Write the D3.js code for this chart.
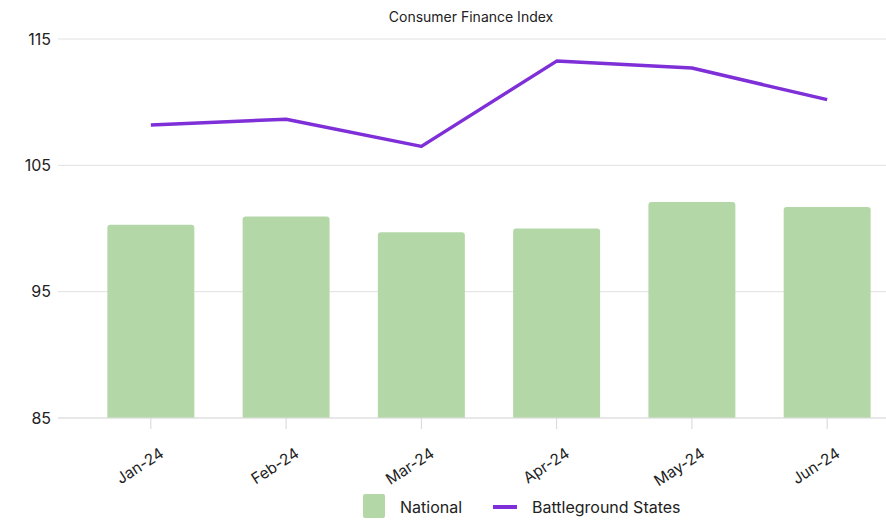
<!DOCTYPE html>
<html>
<head>
<meta charset="utf-8">
<script src="https://cdn.jsdelivr.net/npm/d3@7"></script>
<style>
  body { margin: 0; background: #fff; }
  svg { font-family: Inter, Roboto, sans-serif; display: block; }
</style>
</head>
<body>
<div id="chart"></div>
<script>
// Data
const months = ["Jan-24", "Feb-24", "Mar-24", "Apr-24", "May-24", "Jun-24"];
const national = [100.3, 100.95, 99.7, 100.0, 102.1, 101.7];
const battleground = [108.2, 108.65, 106.5, 113.25, 112.7, 110.2];
const yTicks = [85, 95, 105, 115];

const width = 886, height = 521;
const barColor = "#b4d7a8";
const lineColor = "#7e2fd8";

const svg = d3.select("#chart").append("svg")
  .attr("width", width)
  .attr("height", height);

const x = d3.scaleBand()
  .domain(months)
  .range([83, 895])
  .paddingInner(0.357)
  .paddingOuter(0.18);

const y = d3.scaleLinear()
  .domain([85, 115])
  .range([418, 39]);

// Title
svg.append("text")
  .attr("x", 471)
  .attr("y", 22)
  .attr("text-anchor", "middle")
  .attr("font-size", 14)
  .attr("fill", "#222")
  .text("Consumer Finance Index");

// Grid + y labels
const yAxis = svg.append("g").attr("class", "y-axis");
yAxis.selectAll("line")
  .data(yTicks)
  .join("line")
  .attr("x1", 58)
  .attr("x2", 886)
  .attr("y1", (d) => y(d))
  .attr("y2", (d) => y(d))
  .attr("stroke", "#e0e0e0")
  .attr("stroke-width", 1);

yAxis.selectAll("text")
  .data(yTicks)
  .join("text")
  .attr("x", 51)
  .attr("y", (d) => y(d))
  .attr("dy", "0.35em")
  .attr("text-anchor", "end")
  .attr("font-size", 16)
  .attr("fill", "#222")
  .text((d) => d);

// Bars
svg.append("g")
  .selectAll("path")
  .data(national)
  .join("path")
  .attr("fill", barColor)
  .attr("d", (d, i) => {
    const x0 = x(months[i]), w = x.bandwidth();
    const top = y(d), bottom = y(85), r = 3;
    return `M${x0},${bottom}V${top + r}Q${x0},${top} ${x0 + r},${top}` +
      `H${x0 + w - r}Q${x0 + w},${top} ${x0 + w},${top + r}V${bottom}Z`;
  });

// Baseline redraw over bars
svg.append("line")
  .attr("x1", 58).attr("x2", 886)
  .attr("y1", y(85)).attr("y2", y(85))
  .attr("stroke", "#e0e0e0");

// X axis ticks + labels
const xAxis = svg.append("g").attr("class", "x-axis");
xAxis.selectAll("line")
  .data(months)
  .join("line")
  .attr("x1", (d) => x(d) + x.bandwidth() / 2)
  .attr("x2", (d) => x(d) + x.bandwidth() / 2)
  .attr("y1", y(85))
  .attr("y2", y(85) + 11)
  .attr("stroke", "#d6d6d6");

xAxis.selectAll("text")
  .data(months)
  .join("text")
  .attr("text-anchor", "end")
  .attr("font-size", 15.5)
  .attr("fill", "#222")
  .attr("transform", (d) => `translate(${x(d) + x.bandwidth() / 2 + 14},${y(85) + 38}) rotate(-33)`)
  .text((d) => d);

// Line
const line = d3.line()
  .x((d, i) => x(months[i]) + x.bandwidth() / 2)
  .y((d) => y(d));

svg.append("path")
  .datum(battleground)
  .attr("fill", "none")
  .attr("stroke", lineColor)
  .attr("stroke-width", 3.5)
  .attr("stroke-linejoin", "round")
  .attr("d", line);

// Legend
const legend = svg.append("g").attr("class", "legend");
legend.append("rect")
  .attr("x", 363).attr("y", 494)
  .attr("width", 22).attr("height", 24)
  .attr("rx", 2)
  .attr("fill", barColor);
legend.append("text")
  .attr("x", 400).attr("y", 507)
  .attr("dy", "0.35em")
  .attr("font-size", 16)
  .attr("fill", "#222")
  .text("National");
legend.append("line")
  .attr("x1", 493).attr("x2", 517)
  .attr("y1", 507).attr("y2", 507)
  .attr("stroke", lineColor)
  .attr("stroke-width", 4);
legend.append("text")
  .attr("x", 532).attr("y", 507)
  .attr("dy", "0.35em")
  .attr("font-size", 16)
  .attr("fill", "#222")
  .text("Battleground States");
</script>
</body>
</html>
